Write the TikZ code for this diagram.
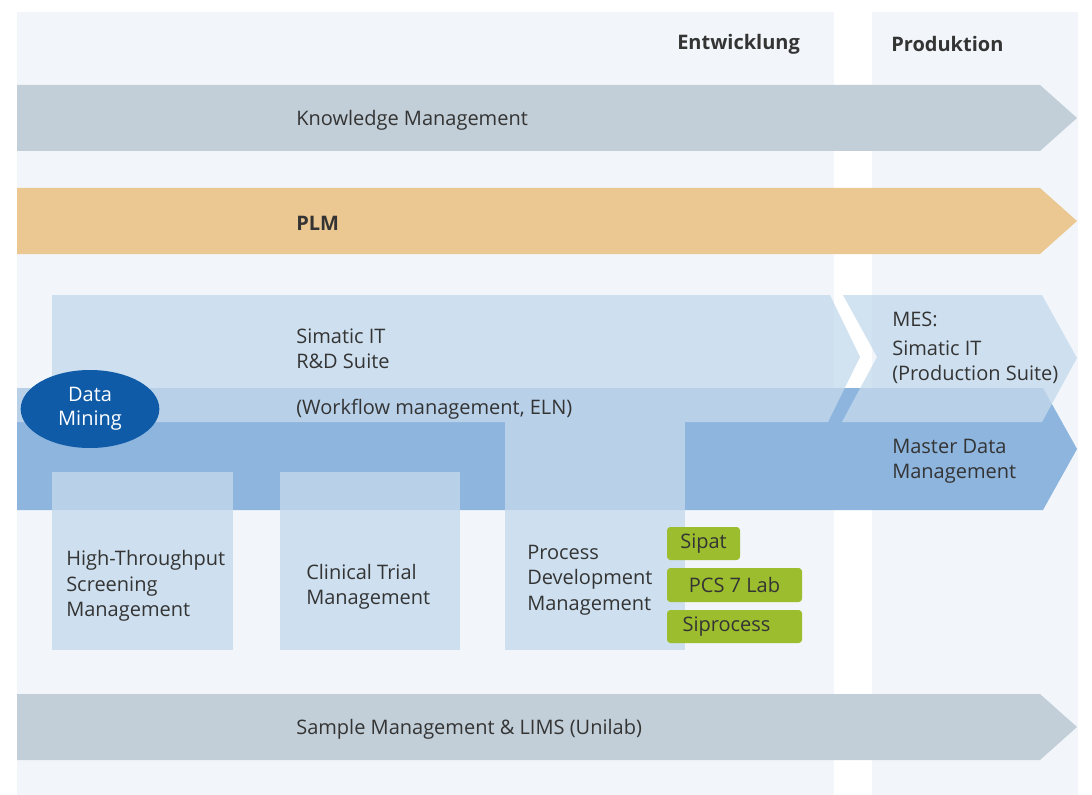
\documentclass[tikz,border=0pt]{standalone}
\usepackage{fontspec}
\setmainfont{Open Sans}
\usetikzlibrary{shapes.geometric}

\definecolor{pageBg}{RGB}{242,246,250}
\definecolor{barGray}{RGB}{194,207,216}
\definecolor{plmSand}{RGB}{235,200,145}
\definecolor{suiteBlue}{RGB}{197,218,237}
\definecolor{masterBlue}{RGB}{141,181,222}
\definecolor{miningBlue}{RGB}{15,91,168}
\definecolor{toolGreen}{RGB}{156,189,46}
\definecolor{txtGray}{RGB}{52,52,52}

\tikzset{
  lbl/.style={anchor=west,inner sep=0.75pt,yshift=-1.5pt,text=txtGray,align=left,font=\fontsize{15}{19}\selectfont},
  hdr/.style={lbl,font=\fontsize{15}{19}\selectfont\bfseries},
  suite/.style={fill=suiteBlue,fill opacity=0.78},
  toolbox/.style={fill=toolGreen,rounded corners=2.5pt,inner sep=0pt,text=txtGray,font=\fontsize{15}{19}\selectfont},
}

\begin{document}
\begin{tikzpicture}[x=0.75pt,y=0.75pt,yscale=-1,xscale=1]
\useasboundingbox (0,0) rectangle (1092,795);

%Shape: Rectangle (page)
\fill [white] (0,0) rectangle (1092,795);
\fill [pageBg] (17,12) rectangle (1078,795);
%Shape: Rectangle (gap between columns)
\fill [white] (834,12) rectangle (872,795);

%Shape: Arrow (knowledge)
\fill [barGray] (17,85) -- (1040,85) -- (1077,118) -- (1040,151) -- (17,151) -- cycle;
%Shape: Arrow (plm)
\fill [plmSand] (17,188) -- (1040,188) -- (1077,221) -- (1040,254) -- (17,254) -- cycle;
%Shape: Arrow (sample management)
\fill [barGray] (17,694) -- (1040,694) -- (1077,727) -- (1040,760) -- (17,760) -- cycle;

%Shape: Arrow (master data)
\fill [masterBlue] (17,388) -- (1043,388) -- (1077,449) -- (1043,510) -- (17,510) -- cycle;

%Shape: Polygon (r&d suite)
\fill [suite] (52,295) -- (830,295) -- (860,357) -- (828,422) -- (17,422) -- (17,388) -- (52,388) -- cycle;
%Shape: Polygon (mes)
\fill [suite] (843,295) -- (1042,295) -- (1077,358) -- (1042,422) -- (842,422) -- (877,357) -- cycle;
%Shape: Rectangle (columns)
\fill [suite] (52,472) rectangle (233,650);
\fill [suite] (280,472) rectangle (460,650);
\fill [suite] (505,422) rectangle (685,650);

%Shape: Ellipse
\node [ellipse,fill=miningBlue,minimum width=104pt,minimum height=58.5pt,inner sep=0pt,text=white,align=center,font=\fontsize{15}{18}\selectfont] (mining) at (90,409) {Data\\Mining};

%Shape: Rounded boxes
\node [toolbox,minimum width=54.75pt,minimum height=24.75pt] (sipat) at (703.5,543.5) {Sipat};
\node [toolbox,minimum width=101.25pt,minimum height=25.5pt] (pcslab) at (734.5,585) {PCS 7 Lab};
\node [toolbox,minimum width=101.25pt,minimum height=24.75pt] (siprocess) at (734.5,626.5) {Siprocess\hspace*{12pt}};

% Text Node
\draw (676,42) node [hdr] (entw) {Entwicklung};
% Text Node
\draw (890,42) node [hdr] (prod) {Produktion};
% Text Node
\draw (295,118) node [lbl] (knowledge) {Knowledge Management};
% Text Node
\draw (295,221) node [hdr] (plm) {PLM};
% Text Node
\draw (295,347) node [lbl] (rdsuite) {Simatic IT\\R\&D Suite};
% Text Node
\draw (295,407) node [lbl] (workflow) {(Workflow management, ELN)};
% Text Node
\draw (891,346) node [lbl] (mes) {MES:\\[3pt]Simatic IT\\(Production Suite)};
% Text Node
\draw (891,459) node [lbl] (master) {Master Data\\Management};
% Text Node
\draw (65,584) node [lbl] (hts) {High-Throughput\\Screening\\Management};
% Text Node
\draw (305,585) node [lbl] (clinical) {Clinical Trial\\Management};
% Text Node
\draw (526,578) node [lbl] (procdev) {Process\\Development\\Management};
% Text Node
\draw (295,727) node [lbl] (sample) {Sample Management \& LIMS (Unilab)};

\end{tikzpicture}
\end{document}
